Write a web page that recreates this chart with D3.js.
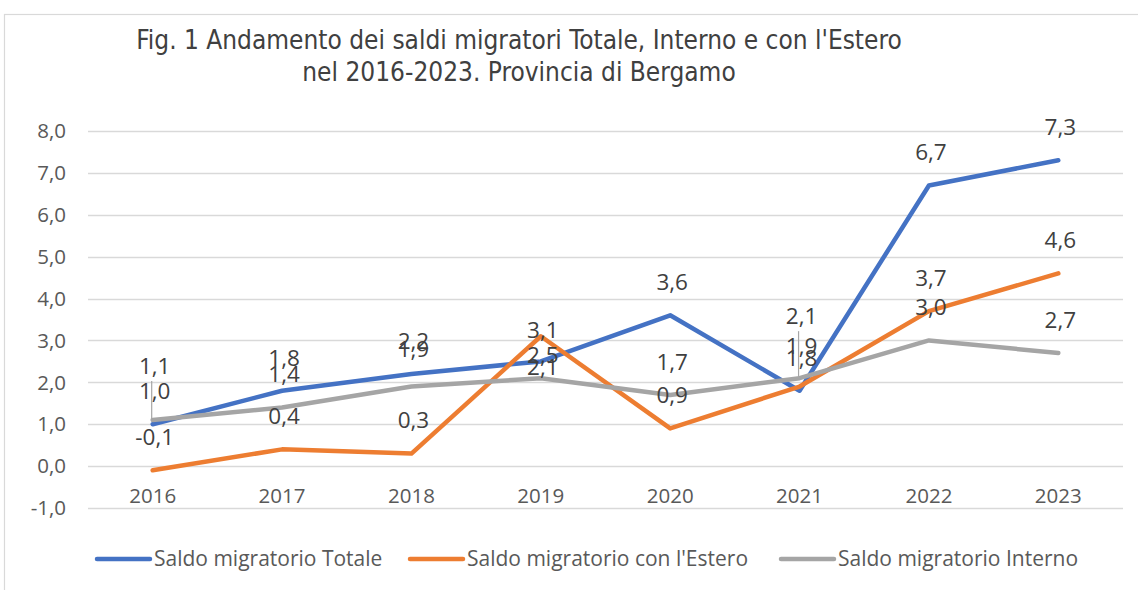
<!DOCTYPE html>
<html>
<head>
<meta charset="utf-8">
<script src="https://cdn.jsdelivr.net/npm/d3@7"></script>
<style>
  body { margin: 0; background: #fff; }
  svg { display: block; }
</style>
</head>
<body>
<div id="chart"></div>
<script>
// data
var years = ["2016", "2017", "2018", "2019", "2020", "2021", "2022", "2023"];
var totale = [1.0, 1.8, 2.2, 2.5, 3.6, 1.8, 6.7, 7.3];
var estero = [-0.1, 0.4, 0.3, 3.1, 0.9, 1.9, 3.7, 4.6];
var interno = [1.1, 1.4, 1.9, 2.1, 1.7, 2.1, 3.0, 2.7];
var yTicks = [-1, 0, 1, 2, 3, 4, 5, 6, 7, 8];
var seriesNames = ["Saldo migratorio Totale", "Saldo migratorio con l'Estero", "Saldo migratorio Interno"];
var titleLines = ["Fig. 1 Andamento dei saldi migratori Totale, Interno e con l'Estero",
                  "nel 2016-2023. Provincia di Bergamo"];

var colors = ["#4472C4", "#ED7D31", "#A5A5A5"];
// label nudges (px) where labels were moved to avoid overlaps, keyed series-index
var nudge = {"2-0": -21, "0-3": 27, "1-3": 27, "2-3": 22, "2-2": -4, "1-5": -7, "2-5": -29};
var leaders = {"2-0": true, "2-5": true};

var W = 1138, H = 590;
var margin = {top: 131, left: 88, right: 15, bottom: 82};
var font = "'Open Sans', 'Noto Sans', sans-serif";

var svg = d3.select("#chart").append("svg")
    .attr("width", W)
    .attr("height", H);

// chart frame
svg.append("rect")
    .attr("x", 4.5).attr("y", 14.5)
    .attr("width", W + 20).attr("height", H + 20)
    .attr("fill", "none")
    .attr("stroke", "#d9d9d9")
    .attr("stroke-width", 1.2);

var xScale = d3.scaleBand()
    .domain(years)
    .range([margin.left, W - margin.right]);

var yScale = d3.scaleLinear()
    .domain([-1, 8])
    .range([H - margin.bottom, margin.top]);

var fmt = function(v) { return d3.format(".1f")(v).replace(".", ",").replace("−", "-"); };

// gridlines
svg.append("g")
    .selectAll("line")
    .data(yTicks)
    .enter().append("line")
    .attr("x1", margin.left)
    .attr("x2", W - margin.right)
    .attr("y1", function(d) { return Math.round(yScale(d)) + 0.5; })
    .attr("y2", function(d) { return Math.round(yScale(d)) + 0.5; })
    .attr("stroke", "#d9d9d9")
    .attr("stroke-width", 1.3);

// y axis labels
svg.append("g")
    .selectAll("text")
    .data(yTicks)
    .enter().append("text")
    .attr("x", 66)
    .attr("y", function(d) { return yScale(d); })
    .attr("dy", "0.35em")
    .attr("text-anchor", "end")
    .attr("font-family", font)
    .attr("font-size", 20.5)
    .attr("fill", "#595959")
    .text(fmt);

// x axis labels, just under the zero line
svg.append("g")
    .selectAll("text")
    .data(years)
    .enter().append("text")
    .attr("x", function(d) { return xScale(d) + xScale.bandwidth() / 2; })
    .attr("y", yScale(0) + 30)
    .attr("dy", "0.35em")
    .attr("text-anchor", "middle")
    .attr("font-family", font)
    .attr("font-size", 20.5)
    .attr("fill", "#595959")
    .text(function(d) { return d; });

var series = [totale, estero, interno].map(function(vals, si) {
    return vals.map(function(v, i) { return {year: years[i], value: v, s: si, i: i}; });
});

var line = d3.line()
    .x(function(d) { return xScale(d.year) + xScale.bandwidth() / 2; })
    .y(function(d) { return yScale(d.value); });

series.forEach(function(s, si) {
    svg.append("path")
        .datum(s)
        .attr("d", line)
        .attr("fill", "none")
        .attr("stroke", colors[si])
        .attr("stroke-width", 4.5)
        .attr("stroke-linejoin", "round")
        .attr("stroke-linecap", "round");
});

// data labels
var allPts = [].concat(series[0], series[1], series[2]);
function labelCenter(d) {
    var k = d.s + "-" + d.i;
    return yScale(d.value) - 33 + (nudge[k] || 0);
}

svg.append("g")
    .selectAll("line")
    .data(allPts.filter(function(d) { return leaders[d.s + "-" + d.i]; }))
    .enter().append("line")
    .attr("x1", function(d) { return xScale(d.year) + xScale.bandwidth() / 2 - 1; })
    .attr("x2", function(d) { return xScale(d.year) + xScale.bandwidth() / 2 - 1; })
    .attr("y1", function(d) { return yScale(d.value); })
    .attr("y2", function(d) { return labelCenter(d) + 15; })
    .attr("stroke", "#a6a6a6")
    .attr("stroke-width", 1.2);

svg.append("g")
    .selectAll("text")
    .data(allPts)
    .enter().append("text")
    .attr("x", function(d) { return xScale(d.year) + xScale.bandwidth() / 2 + 2; })
    .attr("y", labelCenter)
    .attr("dy", "0.35em")
    .attr("text-anchor", "middle")
    .attr("font-family", font)
    .attr("font-size", 22.5)
    .attr("fill", "#404040")
    .text(function(d) { return fmt(d.value); });

// title
svg.append("g")
    .selectAll("text")
    .data(titleLines)
    .enter().append("text")
    .attr("x", 519)
    .attr("y", function(d, i) { return 40 + i * 32; })
    .attr("dy", "0.35em")
    .attr("text-anchor", "middle")
    .attr("font-family", "'Liberation Sans Narrow', 'DejaVu Sans Condensed', sans-serif")
    .attr("font-size", 26)
    .attr("fill", "#404040")
    .text(function(d) { return d; });

// legend
var legendX = [97, 410, 781];
var legend = svg.append("g")
    .selectAll("g")
    .data(seriesNames)
    .enter().append("g")
    .attr("transform", function(d, i) { return "translate(" + legendX[i] + ",559)"; });

legend.append("line")
    .attr("x1", 0).attr("x2", 53)
    .attr("y1", 0).attr("y2", 0)
    .attr("stroke", function(d, i) { return colors[i]; })
    .attr("stroke-width", 4.5)
    .attr("stroke-linecap", "round");

legend.append("text")
    .attr("x", 57)
    .attr("y", 0)
    .attr("dy", "0.35em")
    .attr("font-family", font)
    .attr("font-size", 21)
    .attr("fill", "#595959")
    .text(function(d) { return d; });
</script>
</body>
</html>
